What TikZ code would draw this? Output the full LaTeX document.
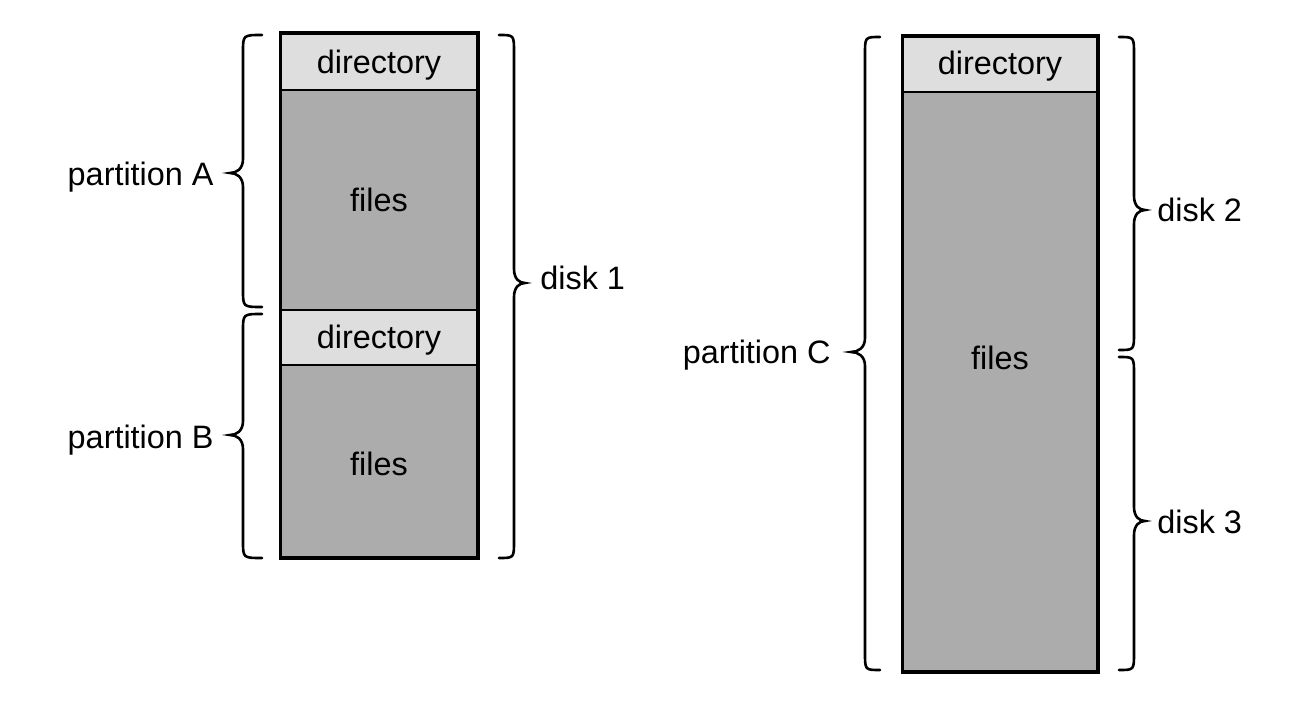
\documentclass[tikz,border=0pt]{standalone}
\usepackage{fontspec}
\setmainfont{Liberation Sans}
\definecolor{dirgray}{RGB}{222,222,222}
\definecolor{filegray}{RGB}{172,172,172}
\tikzset{
  dirbox/.style={draw=black, line width=1pt, fill=dirgray, inner sep=0pt},
  filebox/.style={draw=black, line width=1pt, fill=filegray, inner sep=0pt},
  outline/.style={draw=black, line width=1.5pt},
  bracestyle/.style={draw=black, line width=1.3pt, line cap=round},
  lbl/.style={inner sep=0pt}
}
\newcommand\mybrace[6]{% #1 xv, #2 xe, #3 xc, #4 ytop, #5 ycusp, #6 ybot
  \draw[bracestyle] (#2,#4) .. controls ({#1},{#4}) .. ({#1},{#4+17})
    -- ({#1},{#5-14}) .. controls ({#1},{#5-4}) and ({(#1+#3)/2},{#5}) .. ({#3},{#5})
    .. controls ({(#1+#3)/2},{#5}) and ({#1},{#5+4}) .. ({#1},{#5+14})
    -- ({#1},{#6-17}) .. controls ({#1},{#6}) .. (#2,#6);}
\begin{document}
\begin{tikzpicture}[x=0.5pt,y=-0.5pt,font=\fontsize{16.2}{19}\selectfont]
\useasboundingbox (0,0) rectangle (1295,705);
% left column
\node[dirbox, minimum width=98pt, minimum height=28pt] (dirA) at (379,62) {};
\node[lbl, anchor=base] (dirAtext) at (379,74) {directory};
\node[filebox, minimum width=98pt, minimum height=110pt] (filesA) at (379,200) {files};
\node[dirbox, minimum width=98pt, minimum height=27.5pt] (dirB) at (379,337.5) {};
\node[lbl, anchor=base] (dirBtext) at (379,349) {directory};
\node[filebox, minimum width=98pt, minimum height=96pt] (filesB) at (379,461) {};
\node[lbl] (filesBtext) at (379,464) {files};
\draw[outline] (dirA.north west) rectangle (filesB.south east);
% right column
\node[dirbox, minimum width=97pt, minimum height=27.5pt] (dirC) at (1000,64.5) {};
\node[lbl, anchor=base] (dirCtext) at (1000,75) {directory};
\node[filebox, minimum width=97pt, minimum height=289.5pt] (filesC) at (1000,381.5) {};
\node[lbl] (filesCtext) at (1000,358) {files};
\draw[outline] (dirC.north west) rectangle (filesC.south east);
% braces
\mybrace{243}{262}{230}{35}{173}{307}
\mybrace{243}{262}{230}{314}{435}{558}
\mybrace{514}{499}{525}{35}{283}{558}
\mybrace{865}{880}{851}{37}{352}{670}
\mybrace{1134}{1119}{1145}{37}{210}{350}
\mybrace{1134}{1119}{1145}{357}{521}{670}
% labels
\node[lbl, anchor=base east] (pA) at (214,186) {partition A};
\node[lbl, anchor=base east] (pB) at (214,448) {partition B};
\node[lbl, anchor=base east] (pC) at (831,364) {partition C};
\node[lbl, anchor=base west] (d1) at (540,290) {disk 1};
\node[lbl, anchor=base west] (d2) at (1157,222) {disk 2};
\node[lbl, anchor=base west] (d3) at (1157,533) {disk 3};
\end{tikzpicture}
\end{document}
